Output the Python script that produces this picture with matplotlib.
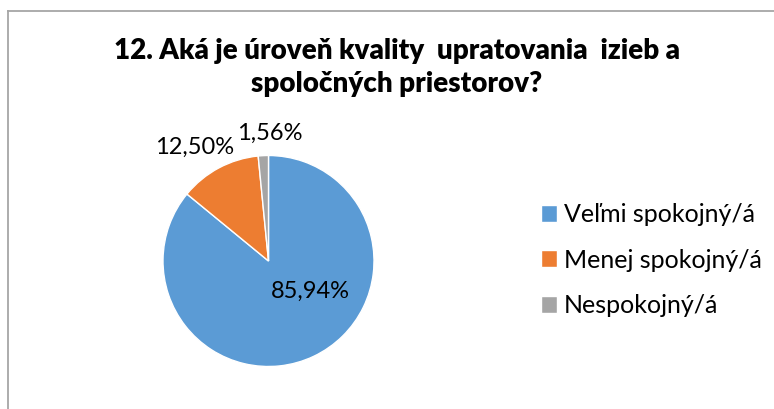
import matplotlib.pyplot as plt
from matplotlib.lines import Line2D

plt.rcParams['font.family'] = ['Lato', 'DejaVu Sans']

# dáta
kategorie = ['Veľmi spokojný/á', 'Menej spokojný/á', 'Nespokojný/á']
hodnoty = [85.94, 12.50, 1.56]
popisky = ['85,94%', '12,50%', '1,56%']
farby = ['#5B9BD5', '#ED7D31', '#A5A5A5']

W, H = 774, 409
fig = plt.figure(figsize=(W / 100, H / 100), dpi=100)

# rám grafu (len horná a ľavá čiara sú viditeľné)
fig.add_artist(Line2D([8 / W, 1], [1 - 11 / H, 1 - 11 / H], color='#a6a6a6', lw=1.3))
fig.add_artist(Line2D([8 / W, 8 / W], [0, 1 - 11 / H], color='#a6a6a6', lw=1.3))

# koláč
cx, cy, r = 268.5, 409 - 261, 105.5
ax = fig.add_axes([(cx - r) / W, (cy - r) / H, 2 * r / W, 2 * r / H])
wedges, _ = ax.pie(hodnoty, colors=farby, startangle=90, counterclock=False,
                   radius=1, wedgeprops=dict(edgecolor='white', linewidth=1))
ax.set_xlim(-1, 1)
ax.set_ylim(-1, 1)
ax.set_aspect('equal')
ax.axis('off')

# pozície popisiek (ručne, ako v Exceli)
pozicie = [(0.40, -0.29), (-0.70, 1.08), (0.014, 1.21)]
for txt, (x, y) in zip(popisky, pozicie):
    ax.text(x, y, txt, ha='center', va='center', fontsize=17, color='#000000', clip_on=False)

fig.text(397 / W, 1 - 67.5 / H,
         '12. Aká je úroveň kvality  upratovania  izieb a\nspoločných priestorov?',
         ha='center', va='center', fontsize=20, fontweight='heavy', linespacing=1.3)

fig.legend(wedges, kategorie, loc='center left', bbox_to_anchor=(541 / W, 1 - 260 / H),
           frameon=False, fontsize=18, handlelength=0.65, handleheight=0.65,
           handletextpad=0.25, labelspacing=0.9, borderpad=0, borderaxespad=0)

fig.savefig('out.png', dpi=100)
